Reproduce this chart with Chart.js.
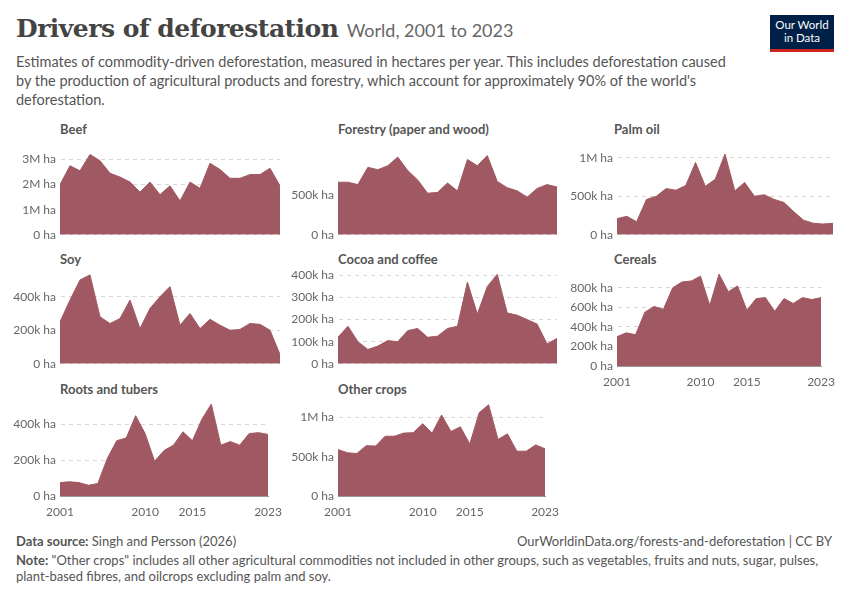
<!DOCTYPE html>
<html><head><meta charset="utf-8">
<script src="https://cdn.jsdelivr.net/npm/chart.js@4"></script>
<style>
body{margin:0;width:850px;height:600px;background:#fff;font-family:Lato,sans-serif;position:relative;overflow:hidden}
.abs{position:absolute}
.ttl{font-size:13px;font-weight:bold;color:#555}
.box{position:absolute}
</style></head><body>
<div class="abs" style="left:16px;top:14px;font-family:'DejaVu Serif',serif;font-size:25px;font-weight:bold;color:#444;letter-spacing:-0.5px">Drivers of deforestation <span style="font-family:Lato,sans-serif;font-weight:normal;font-size:18px;color:#666;letter-spacing:0">World, 2001 to 2023</span></div>
<div class="abs" style="left:770px;top:15px;width:64px;height:37px;background:#002147;color:#fff;font-size:11.5px;line-height:13px;text-align:center;padding-top:3px;box-sizing:border-box;border-bottom:3px solid #ce261e">Our World<br>in Data</div>
<div class="abs" style="left:16px;top:52px;width:722px;font-size:14.5px;line-height:19px;color:#555">Estimates of commodity-driven deforestation, measured in hectares per year. This includes deforestation caused by the production of agricultural products and forestry, which account for approximately 90% of the world's deforestation.</div>
<div class="abs ttl" style="left:60px;top:121px">Beef</div>
<div class="abs ttl" style="left:338px;top:121px">Forestry (paper and wood)</div>
<div class="abs ttl" style="left:614px;top:121px">Palm oil</div>
<div class="abs ttl" style="left:60px;top:251px">Soy</div>
<div class="abs ttl" style="left:338px;top:251px">Cocoa and coffee</div>
<div class="abs ttl" style="left:614px;top:251px">Cereals</div>
<div class="abs ttl" style="left:60px;top:381px">Roots and tubers</div>
<div class="abs ttl" style="left:338px;top:381px">Other crops</div>
<div class="box" id="b1"><canvas id="c1"></canvas></div>
<div class="box" id="b2"><canvas id="c2"></canvas></div>
<div class="box" id="b3"><canvas id="c3"></canvas></div>
<div class="box" id="b4"><canvas id="c4"></canvas></div>
<div class="box" id="b5"><canvas id="c5"></canvas></div>
<div class="box" id="b6"><canvas id="c6"></canvas></div>
<div class="box" id="b7"><canvas id="c7"></canvas></div>
<div class="box" id="b8"><canvas id="c8"></canvas></div>
<div class="abs" style="left:16px;top:533px;font-size:13px;color:#555"><b>Data source:</b> Singh and Persson (2026)</div>
<div class="abs" style="right:18px;top:533px;font-size:13px;color:#555">OurWorldinData.org/forests-and-deforestation | CC BY</div>
<div class="abs" style="left:16px;top:552px;width:810px;font-size:13px;line-height:16px;color:#555"><b>Note:</b> "Other crops" includes all other agricultural commodities not included in other groups, such as vegetables, fruits and nuts, sugar, pulses, plant-based fibres, and oilcrops excluding palm and soy.</div>
<script>
const years = Array.from({length: 23}, (_, i) => 2001 + i);
const xTicks = [2001, 2010, 2015, 2023];

const beef = [2.0, 2.75, 2.55, 3.2, 2.95, 2.45, 2.3, 2.1, 1.7, 2.1, 1.6, 1.95, 1.35, 2.1, 1.85, 2.85, 2.6, 2.25, 2.25, 2.4, 2.4, 2.65, 1.95].map(v => v * 1e6);
const forestry = [670, 670, 640, 860, 830, 880, 990, 820, 700, 530, 540, 660, 560, 960, 880, 1010, 680, 600, 560, 480, 590, 640, 610].map(v => v * 1e3);
const palmOil = [210, 240, 170, 460, 500, 600, 580, 640, 940, 630, 720, 1050, 570, 680, 500, 520, 460, 420, 300, 190, 150, 140, 150].map(v => v * 1e3);
const soy = [250, 380, 500, 530, 280, 240, 270, 380, 210, 330, 400, 460, 230, 300, 210, 265, 230, 200, 205, 240, 235, 200, 55].map(v => v * 1e3);
const cocoa = [120, 170, 100, 65, 80, 105, 100, 150, 160, 120, 125, 160, 170, 370, 225, 350, 405, 230, 220, 200, 180, 90, 115].map(v => v * 1e3);
const cereals = [300, 340, 320, 550, 610, 580, 800, 860, 870, 920, 620, 940, 760, 820, 570, 690, 700, 560, 690, 640, 700, 680, 700].map(v => v * 1e3);
const roots = [75, 80, 75, 60, 70, 210, 310, 325, 450, 350, 195, 255, 285, 360, 310, 430, 515, 285, 305, 285, 350, 355, 345].map(v => v * 1e3);
const otherCrops = [590, 550, 540, 640, 635, 760, 760, 800, 805, 920, 800, 1030, 820, 880, 660, 1060, 1160, 720, 790, 570, 570, 650, 600].map(v => v * 1e3);

function fmt(v) {
    if (v === 0) return '0 ha';
    if (v >= 1e6) return (v / 1e6) + 'M ha';
    return (v / 1e3) + 'k ha';
}

function panel(id, data, yTicks, yMax, showX, left, top, width, height, axisW) {
    const b = document.getElementById('b' + id);
    b.style.left = left + 'px'; b.style.top = top + 'px';
    b.style.width = width + 'px'; b.style.height = height + 'px';
    new Chart(document.getElementById('c' + id), {
        type: 'line',
        data: {
            labels: years,
            datasets: [{
                data: years.map((y, i) => ({x: y, y: data[i]})),
                fill: 'origin',
                backgroundColor: 'rgb(160, 89, 98)',
                borderColor: 'rgb(160, 89, 98)',
                borderWidth: 1,
                pointRadius: 0,
                tension: 0
            }]
        },
        options: {
            responsive: true, maintainAspectRatio: false, animation: false,
            layout: {padding: {top: 6, right: 3, bottom: showX ? 0 : 2}},
            plugins: {legend: {display: false}, tooltip: {enabled: false}},
            scales: {
                x: {
                    type: 'linear', min: 2001, max: 2023,
                    display: showX,
                    afterBuildTicks: ax => { ax.ticks = xTicks.map(v => ({value: v})); },
                    afterFit: ax => { if (showX) ax.height = 20; },
                    ticks: {color: '#666', font: {family: 'Lato', size: 12}, maxRotation: 0, autoSkip: false, padding: 1, callback: v => String(v)},
                    grid: {display: false},
                    border: {color: '#999'}
                },
                y: {
                    min: 0, max: yMax,
                    afterBuildTicks: ax => { ax.ticks = yTicks.map(v => ({value: v})); },
                    afterFit: ax => { ax.width = axisW; },
                    ticks: {color: '#666', font: {family: 'Lato', size: 12}, padding: 4, callback: v => fmt(v)},
                    grid: {color: '#d6d6d6', drawTicks: false},
                    border: {display: true, color: 'rgba(0,0,0,0)', dash: [4, 4]}
                }
            }
        }
    });
}

panel(1, beef, [0, 1e6, 2e6, 3e6], 3.25e6, false, 12, 142, 271, 104, 48);
panel(2, forestry, [0, 5e5], 1.04e6, false, 285, 142, 275, 104, 53);
panel(3, palmOil, [0, 5e5, 1e6], 1.06e6, false, 563, 142, 273, 104, 54);
panel(4, soy, [0, 2e5, 4e5], 5.4e5, false, 12, 262, 271, 113, 48);
panel(5, cocoa, [0, 1e5, 2e5, 3e5, 4e5], 4.1e5, false, 285, 262, 275, 113, 53);
panel(6, cereals, [0, 2e5, 4e5, 6e5, 8e5], 9.5e5, true, 563, 262, 273, 124, 54);
panel(7, roots, [0, 2e5, 4e5], 5.2e5, true, 12, 392, 271, 124, 48);
panel(8, otherCrops, [0, 5e5, 1e6], 1.18e6, true, 285, 392, 275, 124, 53);
</script>
</body></html>
